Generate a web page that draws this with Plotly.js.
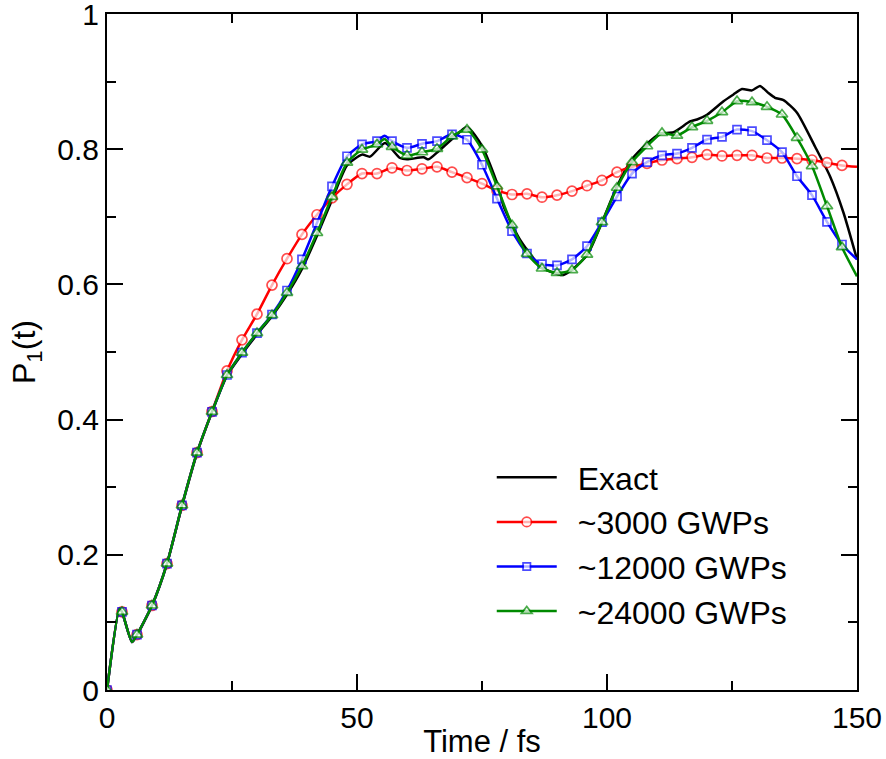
<!DOCTYPE html>
<html>
<head>
<meta charset="utf-8">
<script src="https://cdn.plot.ly/plotly-3.0.1.min.js"></script>
<style>html,body{margin:0;padding:0;background:#fff;}#chart{width:886px;height:759px;}</style>
</head>
<body>
<div id="chart"></div>
<script>
// Exact result (continuous line, no markers)
const timeExact = [0,2.5,3,5,6,9,12,15,18,21,24,27,30,33,36,39,42,45,48,51,52.6,55.6,58.6,60,63.3,64.3,66.3,69.3,72,75,78,79.3,82.6,87,91.3,96,99,102,105,108,110.6,113.3,116.6,118,120,123.3,125.3,127,129,130.6,132.3,133.6,135.3,138,141.6,144.6,147.3,150];
const valExact  = [0,0.12,0.1157,0.071,0.081,0.125,0.187,0.272,0.35,0.411,0.465,0.497,0.526,0.553,0.585,0.623,0.672,0.725,0.776,0.792,0.789,0.809,0.787,0.785,0.788,0.785,0.797,0.817,0.833,0.805,0.75,0.716,0.666,0.625,0.614,0.643,0.692,0.745,0.785,0.808,0.823,0.825,0.841,0.844,0.851,0.871,0.881,0.889,0.887,0.8935,0.883,0.876,0.8725,0.854,0.804,0.760,0.706,0.637];

// ~3000 GWPs
const time3000 = [0,2.5,3,5,6,9,12,15,18,21,24,27,30,33,36,39,42,45,48,51,54,57,60,63,66,69,72,75,78,81,84,87,90,93,96,99,102,105,108,111,114,117,120,123,126,129,132,135,138,141,144,147,150];
const val3000  = [0,0.12,0.1157,0.071,0.082,0.125,0.187,0.273,0.351,0.412,0.472,0.518,0.556,0.599,0.638,0.674,0.703,0.728,0.748,0.764,0.764,0.7725,0.7685,0.771,0.774,0.766,0.758,0.749,0.739,0.733,0.734,0.729,0.732,0.738,0.746,0.754,0.766,0.774,0.779,0.784,0.786,0.788,0.792,0.790,0.791,0.791,0.787,0.787,0.786,0.784,0.780,0.776,0.774];

// ~12000 GWPs
const time12000 = [0,2.5,3,5,6,9,12,15,18,21,24,27,30,33,36,39,42,45,48,51,54,55.5,57,60,63,66,69,72,75,78,81,84,87,90,93,96,99,102,105,108,111,114,117,120,123,126,129,132,135,138,141,144,147,150];
const val12000  = [0,0.12,0.1157,0.071,0.082,0.125,0.187,0.273,0.351,0.4115,0.466,0.499,0.528,0.5555,0.591,0.637,0.691,0.745,0.7896,0.807,0.812,0.820,0.812,0.802,0.808,0.812,0.822,0.814,0.777,0.727,0.6787,0.6457,0.630,0.628,0.637,0.6565,0.692,0.730,0.764,0.781,0.791,0.7936,0.802,0.8143,0.8183,0.829,0.8267,0.8133,0.7956,0.760,0.732,0.6926,0.659,0.637];

// ~24000 GWPs
const time24000 = [0,2.5,3,5,6,9,12,15,18,21,24,27,30,33,36,39,42,45,48,51,54,55.5,57,60,63,66,69,72,75,78,81,84,87,90,93,96,99,102,105,108,111,114,117,120,123,126,129,132,135,138,141,144,147,150];
const val24000  = [0,0.12,0.1157,0.071,0.082,0.125,0.187,0.273,0.351,0.4115,0.466,0.499,0.528,0.5545,0.5876,0.627,0.676,0.7295,0.780,0.7995,0.807,0.815,0.8035,0.7907,0.7955,0.8006,0.819,0.829,0.7995,0.745,0.6876,0.6453,0.6235,0.617,0.621,0.644,0.692,0.743,0.781,0.8044,0.824,0.820,0.8326,0.842,0.8547,0.871,0.8695,0.8627,0.8513,0.8168,0.775,0.7157,0.655,0.612];

const seriesNames = ['Exact','~3000 GWPs','~12000 GWPs','~24000 GWPs'];
const xTickVals = [0,50,100,150];
const yTickVals = [0,0.2,0.4,0.6,0.8,1];
const yTickText = ['0','0.2','0.4','0.6','0.8','1'];

function markerSizes(times, s){
  return times.map(t => (t % 3 === 0 && t < 150) ? s : 0);
}
const GAP = '\u2002';

const LW = 2.5;
const traces = [
  {x: timeExact, y: valExact, name: GAP + seriesNames[0], mode: 'lines',
   line: {color: '#000000', width: LW, shape: 'spline', smoothing: 0.6}},
  {x: time3000, y: val3000, name: GAP + seriesNames[1], mode: 'lines+markers',
   line: {color: '#ff0000', width: LW, shape: 'spline', smoothing: 0.6},
   marker: {symbol: 'circle', size: markerSizes(time3000, 10), color: '#ffffff', line: {color: '#ff0000', width: 1.7}}},
  {x: time12000, y: val12000, name: GAP + seriesNames[2], mode: 'lines+markers',
   line: {color: '#0000ff', width: LW, shape: 'spline', smoothing: 0.6},
   marker: {symbol: 'square', size: markerSizes(time12000, 8), color: '#ffffff', line: {color: '#0000ff', width: 1.7}}},
  {x: time24000, y: val24000, name: GAP + seriesNames[3], mode: 'lines+markers',
   line: {color: '#008a00', width: LW, shape: 'spline', smoothing: 0.6},
   marker: {symbol: 'triangle-up', size: markerSizes(time24000, 10), color: '#ffffff', line: {color: '#008a00', width: 1.7}}}
];

const font = {family: 'Liberation Sans, Arial, sans-serif', size: 30, color: '#000'};

const layout = {
  width: 886, height: 759,
  margin: {l: 107, r: 29, t: 14, b: 69, pad: 0},
  paper_bgcolor: '#fff', plot_bgcolor: '#fff',
  font: font,
  showlegend: true,
  legend: {x: 0.513, y: 0.355, xanchor: 'left', yanchor: 'top', bgcolor: 'rgba(0,0,0,0)',
           borderwidth: 0, font: {family: font.family, size: 32, color: '#000'}, itemwidth: 60,
           tracegroupgap: 0},
  xaxis: {range: [0, 150], tickmode: 'array', tickvals: xTickVals, ticktext: xTickVals.map(String),
          ticks: 'inside', ticklen: 16, tickwidth: 2, tickcolor: '#000', ticklabeloverflow: 'allow',
          minor: {dtick: 25, ticks: 'inside', ticklen: 9, tickwidth: 2, tickcolor: '#000', showgrid: false},
          showline: true, linecolor: '#000', linewidth: 2, mirror: 'allticks',
          showgrid: false, zeroline: false, tickfont: {size: 30},
          title: {text: 'Time / fs', font: {size: 31}, standoff: 2}},
  yaxis: {range: [0, 1], tickmode: 'array', tickvals: yTickVals, ticktext: yTickText,
          ticks: 'inside', ticklen: 16, tickwidth: 2, tickcolor: '#000', ticklabeloverflow: 'allow',
          minor: {dtick: 0.1, ticks: 'inside', ticklen: 9, tickwidth: 2, tickcolor: '#000', showgrid: false},
          showline: true, linecolor: '#000', linewidth: 2, mirror: 'allticks',
          showgrid: false, zeroline: false, tickfont: {size: 30},
          title: {text: 'P<sub>1</sub>(t)', font: {size: 32}, standoff: 12}}
};

Plotly.newPlot('chart', traces, layout, {displayModeBar: false, staticPlot: true});
</script>
</body>
</html>
